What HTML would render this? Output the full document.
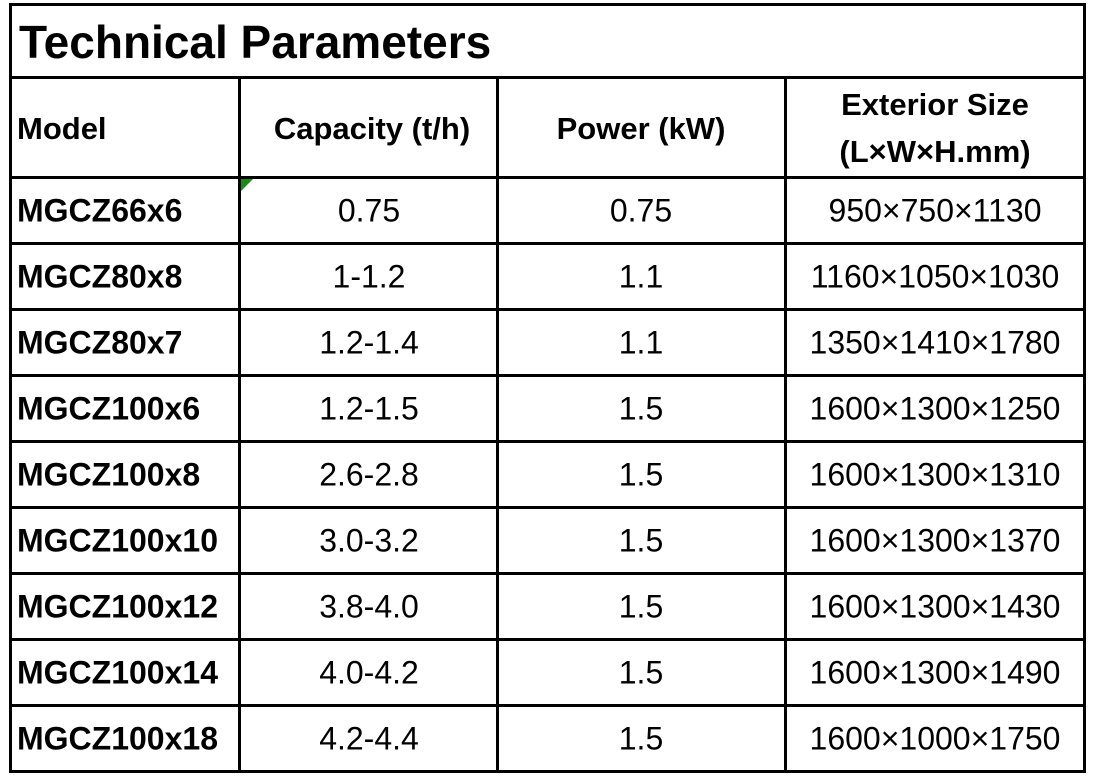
<!DOCTYPE html>
<html><head><meta charset="utf-8"><style>
body{margin:0;width:1099px;height:780px;background:#fff;position:relative;overflow:hidden;font-family:"Liberation Sans",sans-serif;color:#000}
.h{position:absolute;height:3px;background:#000}
.v{position:absolute;width:3px;background:#000}
.t{position:absolute;font-size:32px;white-space:nowrap;transform:translate(-50%,-50%)}
.l{position:absolute;font-size:32px;font-weight:bold;white-space:nowrap;transform:translateY(-50%);left:17px}
.b{font-weight:bold}
</style></head><body>
<div class="h" style="left:9px;width:1077px;top:3px"></div>
<div class="h" style="left:9px;width:1077px;top:76px"></div>
<div class="h" style="left:9px;width:1077px;top:176px"></div>
<div class="h" style="left:9px;width:1077px;top:242px"></div>
<div class="h" style="left:9px;width:1077px;top:308px"></div>
<div class="h" style="left:9px;width:1077px;top:374px"></div>
<div class="h" style="left:9px;width:1077px;top:440px"></div>
<div class="h" style="left:9px;width:1077px;top:506px"></div>
<div class="h" style="left:9px;width:1077px;top:572px"></div>
<div class="h" style="left:9px;width:1077px;top:638px"></div>
<div class="h" style="left:9px;width:1077px;top:704px"></div>
<div class="h" style="left:9px;width:1077px;top:770px"></div>
<div class="v" style="left:9px;top:3px;height:770px"></div>
<div class="v" style="left:1083px;top:3px;height:770px"></div>
<div class="v" style="left:238px;top:76px;height:697px"></div>
<div class="v" style="left:496px;top:76px;height:697px"></div>
<div class="v" style="left:784px;top:76px;height:697px"></div>
<div style="position:absolute;left:241px;top:179px;width:0;height:0;border-top:12px solid #1a8a1a;border-right:12px solid transparent"></div>
<div class="b" style="position:absolute;left:19px;top:14px;font-size:46px;line-height:56px">Technical Parameters</div>
<div class="l" style="top:129px;font-size:31px">Model</div>
<div class="t b" style="left:372px;top:129px;font-size:31px">Capacity (t/h)</div>
<div class="t b" style="left:641px;top:129px;font-size:31px">Power (kW)</div>
<div class="t b" style="left:935px;top:105px;font-size:31px">Exterior Size</div>
<div class="t b" style="left:935px;top:152px;font-size:31px">(L×W×H.mm)</div>

<div class="l" style="top:211px">MGCZ66x6</div><div class="t" style="left:369px;top:211px">0.75</div><div class="t" style="left:641px;top:211px">0.75</div><div class="t" style="left:935px;top:211px">950×750×1130</div>
<div class="l" style="top:277px">MGCZ80x8</div><div class="t" style="left:369px;top:277px">1-1.2</div><div class="t" style="left:641px;top:277px">1.1</div><div class="t" style="left:935px;top:277px">1160×1050×1030</div>
<div class="l" style="top:343px">MGCZ80x7</div><div class="t" style="left:369px;top:343px">1.2-1.4</div><div class="t" style="left:641px;top:343px">1.1</div><div class="t" style="left:935px;top:343px">1350×1410×1780</div>
<div class="l" style="top:409px">MGCZ100x6</div><div class="t" style="left:369px;top:409px">1.2-1.5</div><div class="t" style="left:641px;top:409px">1.5</div><div class="t" style="left:935px;top:409px">1600×1300×1250</div>
<div class="l" style="top:475px">MGCZ100x8</div><div class="t" style="left:369px;top:475px">2.6-2.8</div><div class="t" style="left:641px;top:475px">1.5</div><div class="t" style="left:935px;top:475px">1600×1300×1310</div>
<div class="l" style="top:541px">MGCZ100x10</div><div class="t" style="left:369px;top:541px">3.0-3.2</div><div class="t" style="left:641px;top:541px">1.5</div><div class="t" style="left:935px;top:541px">1600×1300×1370</div>
<div class="l" style="top:607px">MGCZ100x12</div><div class="t" style="left:369px;top:607px">3.8-4.0</div><div class="t" style="left:641px;top:607px">1.5</div><div class="t" style="left:935px;top:607px">1600×1300×1430</div>
<div class="l" style="top:673px">MGCZ100x14</div><div class="t" style="left:369px;top:673px">4.0-4.2</div><div class="t" style="left:641px;top:673px">1.5</div><div class="t" style="left:935px;top:673px">1600×1300×1490</div>
<div class="l" style="top:739px">MGCZ100x18</div><div class="t" style="left:369px;top:739px">4.2-4.4</div><div class="t" style="left:641px;top:739px">1.5</div><div class="t" style="left:935px;top:739px">1600×1000×1750</div>
</body></html>
